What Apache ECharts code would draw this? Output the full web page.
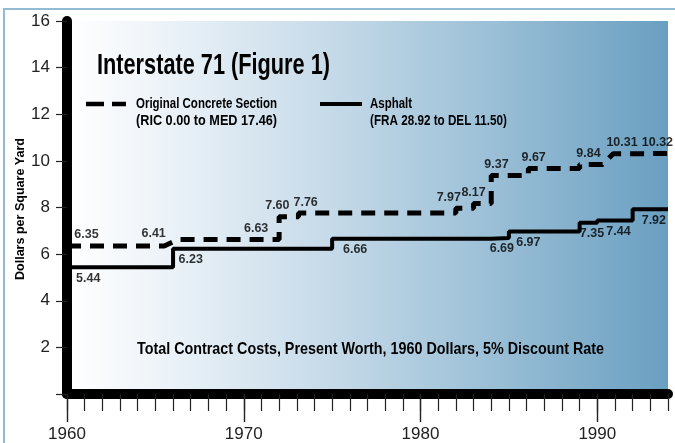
<!DOCTYPE html>
<html>
<head>
<meta charset="utf-8">
<script src="https://cdn.jsdelivr.net/npm/echarts@6/dist/echarts.min.js"></script>
<style>
  html, body { margin: 0; padding: 0; background: #fff; }
  #main { width: 675px; height: 443px; }
</style>
</head>
<body>
<div id="main"></div>
<script>
// data
var concreteYears = [1960, 1965.5, 1965.5, 1966.3, 1972, 1972, 1973.1, 1973.1, 1982, 1982, 1983, 1983, 1984, 1984,
                     1986.1, 1986.1, 1989, 1989, 1990.3, 1990.9, 1993, 1993, 1994];
var concreteCosts = [6.35, 6.35, 6.41, 6.63, 6.63, 7.60, 7.60, 7.76, 7.76, 7.97, 7.97, 8.17, 8.17, 9.37,
                     9.37, 9.67, 9.67, 9.84, 9.84, 10.31, 10.31, 10.32, 10.32];
var asphaltYears = [1960, 1966, 1975, 1984, 1985, 1989, 1990, 1992, 1994];
var asphaltCosts = [5.44, 6.23, 6.66, 6.69, 6.97, 7.35, 7.44, 7.92, 7.92];

var concreteLabelYears = [1961.1, 1964.9, 1970.7, 1971.9, 1973.5, 1981.6, 1983.0, 1984.3, 1986.4, 1989.5, 1991.4, 1993.4];
var concreteLabelCosts = [6.35, 6.41, 6.63, 7.60, 7.76, 7.97, 8.17, 9.37, 9.67, 9.84, 10.31, 10.32];
var asphaltLabelYears = [1961.2, 1967.0, 1976.3, 1984.6, 1986.1, 1989.7, 1991.2, 1993.2];
var asphaltLabelCosts = [5.44, 6.23, 6.66, 6.69, 6.97, 7.35, 7.44, 7.92];

var seriesNames = ['Original Concrete Section', 'Asphalt'];
var seriesNotes = ['(RIC 0.00 to MED 17.46)', '(FRA 28.92 to DEL 11.50)'];
var decadeTicks = [1960, 1970, 1980, 1990];

var sans = '"Liberation Sans", Arial, sans-serif';

function zip(xs, ys) {
    return xs.map(function (x, i) { return [x, ys[i]]; });
}

var yearTicks = [];
for (var y = 1960; y <= 1994; y++) yearTicks.push(y);

// the original uses a condensed bold face, so squeeze regular bold text to the width it had
var measureCtx = document.createElement('canvas').getContext('2d');
function squeezedText(text, size, x, y, width, extra) {
    measureCtx.font = 'bold ' + size + 'px ' + sans;
    var el = {
        type: 'text',
        x: x, y: y,
        scaleX: width / measureCtx.measureText(text).width,
        silent: true,
        z: 10,
        style: {
            text: text,
            fontSize: size, fontWeight: 'bold', fontFamily: sans,
            fill: '#000', align: 'left', verticalAlign: 'middle'
        }
    };
    if (extra) {
        if (extra.align) { el.style.align = extra.align; delete extra.align; }
        Object.assign(el, extra);
    }
    return el;
}

var myChart = echarts.init(document.getElementById('main'));

var labelStyle = {
    show: true, distance: 4,
    fontSize: 12.5, fontWeight: 'bold', fontFamily: sans, color: '#000',
    formatter: function (p) { return p.value[1].toFixed(2); }
};

var option = {
    animation: false,
    backgroundColor: '#fff',
    graphic: [
        {
            type: 'rect',
            shape: { x: 4, y: 9, width: 720, height: 500 },
            style: { fill: null, stroke: '#93bbd5', lineWidth: 2 },
            silent: true
        },
        squeezedText('Interstate 71 (Figure 1)', 29, 97, 66, 233),
        // legend
        {
            type: 'line', silent: true, z: 10,
            shape: { x1: 86, y1: 104, x2: 126, y2: 104 },
            style: { stroke: '#000', lineWidth: 4.5, lineDash: [18, 8] }
        },
        squeezedText(seriesNames[0], 14, 136, 104, 141),
        squeezedText(seriesNotes[0], 14, 136, 121.5, 141),
        {
            type: 'line', silent: true, z: 10,
            shape: { x1: 320, y1: 104, x2: 362, y2: 104 },
            style: { stroke: '#000', lineWidth: 4 }
        },
        squeezedText(seriesNames[1], 14, 370, 104, 42),
        squeezedText(seriesNotes[1], 14, 370, 121.5, 137),
        squeezedText('Total Contract Costs, Present Worth, 1960 Dollars, 5% Discount Rate', 16.5, 137, 349, 467),
        squeezedText('Dollars per Square Yard', 13, 20, 209, 142, { rotation: Math.PI / 2, align: 'center' })
    ],
    grid: {
        left: 67, right: 7, top: 21, bottom: 47,
        show: true,
        borderWidth: 0,
        backgroundColor: new echarts.graphic.LinearGradient(0, 0, 1, 0, [
            { offset: 0, color: '#ffffff' },
            { offset: 0.15, color: '#eef4f9' },
            { offset: 0.45, color: '#c4d9e8' },
            { offset: 0.7, color: '#9cc0d7' },
            { offset: 1, color: '#6a9fc1' }
        ])
    },
    xAxis: [
        {
            type: 'value', min: 1960, max: 1994,
            axisLine: { lineStyle: { color: '#000', width: 10 } },
            axisTick: { customValues: yearTicks, length: 17, lineStyle: { color: '#222', width: 1.2 } },
            axisLabel: {
                customValues: decadeTicks, margin: 32,
                fontSize: 17, color: '#222', fontFamily: sans,
                formatter: function (v) { return String(v); }
            },
            splitLine: { show: false }
        },
        {
            type: 'value', min: 1960, max: 1994, position: 'bottom',
            axisLine: { show: false },
            axisTick: { customValues: decadeTicks, length: 28, lineStyle: { color: '#222', width: 1.4 } },
            axisLabel: { show: false },
            splitLine: { show: false }
        }
    ],
    yAxis: {
        type: 'value', min: 0, max: 16, interval: 2,
        axisLine: { show: true, lineStyle: { color: '#000', width: 10 } },
        axisTick: { show: true, length: 11, lineStyle: { color: '#222', width: 1.2 } },
        axisLabel: {
            margin: 17, fontSize: 17, color: '#222', fontFamily: sans,
            formatter: function (v) { return v === 0 ? '' : String(v); }
        },
        splitLine: { show: false }
    },
    series: [
        {
            name: seriesNames[0],
            type: 'line',
            data: zip(concreteYears, concreteCosts),
            symbol: 'none',
            lineStyle: { color: '#000', width: 5, type: [14, 9], cap: 'butt' },
            z: 5
        },
        {
            name: seriesNames[1],
            type: 'line',
            step: 'end',
            data: zip(asphaltYears, asphaltCosts),
            symbol: 'none',
            lineStyle: { color: '#000', width: 4 },
            z: 5
        },
        {
            type: 'scatter',
            data: zip(concreteLabelYears, concreteLabelCosts),
            symbolSize: 1,
            itemStyle: { color: 'transparent' },
            label: Object.assign({}, labelStyle, { position: 'top' }),
            silent: true, z: 6
        },
        {
            type: 'scatter',
            data: zip(asphaltLabelYears, asphaltLabelCosts),
            symbolSize: 1,
            itemStyle: { color: 'transparent' },
            label: Object.assign({}, labelStyle, { position: 'bottom' }),
            silent: true, z: 6
        }
    ]
};

myChart.setOption(option);
</script>
</body>
</html>
